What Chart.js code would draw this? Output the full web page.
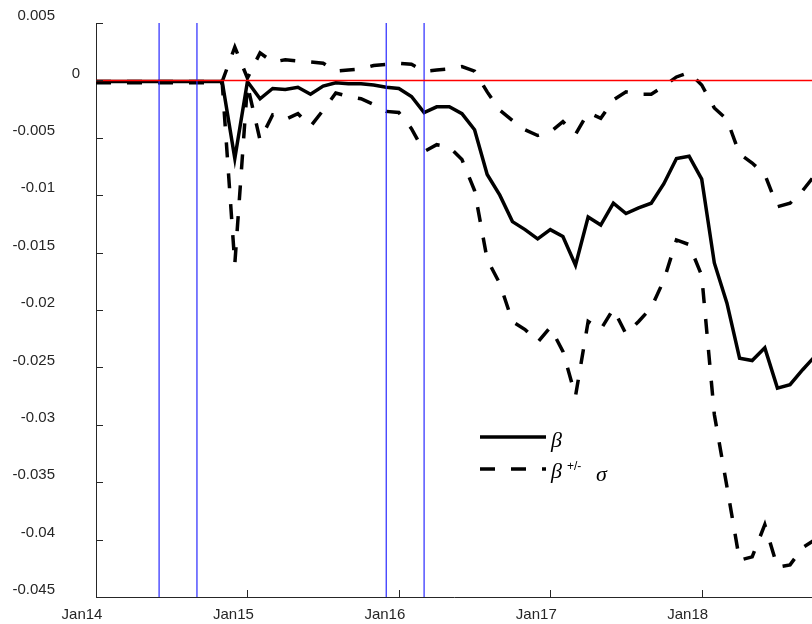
<!DOCTYPE html>
<html>
<head>
<meta charset="utf-8">
<script src="https://cdn.jsdelivr.net/npm/chart.js@4.4.1/dist/chart.umd.min.js"></script>
<style>
  html, body { margin: 0; padding: 0; background: #fff; overflow: hidden; }
  #wrap { width: 812px; height: 624px; }
</style>
</head>
<body>
<div id="wrap"><canvas id="chart" width="812" height="624"></canvas></div>
<script>
// months since Jan 2014, one point per month
const months = [0, 1, 2, 3, 4, 5, 6, 7, 8, 9, 10, 11, 12, 13, 14, 15, 16, 17, 18, 19,
    20, 21, 22, 23, 24, 25, 26, 27, 28, 29, 30, 31, 32, 33, 34, 35, 36, 37, 38, 39,
    40, 41, 42, 43, 44, 45, 46, 47, 48, 49, 50, 51, 52, 53, 54, 55, 56, 57];

const beta = [-0.0001, -0.0001, -0.0001, -0.0001, -0.0001, -0.0001, -0.0001, -0.0001, -0.0001, -0.0001,
    -0.0001, -0.0068, -0.0001, -0.0016, -0.0007, -0.0008, -0.0006, -0.0012, -0.0005, -0.0002,
    -0.0003, -0.0003, -0.0004, -0.0006, -0.0007, -0.0014, -0.0028, -0.0023, -0.0023, -0.0029,
    -0.0043, -0.0082, -0.0100, -0.0123, -0.0130, -0.0138, -0.0130, -0.0136, -0.0161, -0.0119,
    -0.0126, -0.0107, -0.0116, -0.0111, -0.0107, -0.0090, -0.0068, -0.0066, -0.0086, -0.0159,
    -0.0194, -0.0242, -0.0244, -0.0233, -0.0268, -0.0265, -0.0252, -0.0240];

const betaUpper = [-0.0001, -0.0001, -0.0001, -0.0001, -0.0001, -0.0001, -0.0001, -0.0001, -0.0001, -0.0001,
    -0.0001, 0.0029, 0.0002, 0.0024, 0.0016, 0.0018, 0.0017, 0.0016, 0.0015, 0.0008,
    0.0009, 0.0010, 0.0013, 0.0014, 0.0015, 0.0014, 0.0008, 0.0009, 0.0010, 0.0012,
    0.0008, -0.0010, -0.0026, -0.0035, -0.0043, -0.0048, -0.0045, -0.0036, -0.0047, -0.0028,
    -0.0033, -0.0017, -0.0010, -0.0012, -0.0012, -0.0005, 0.0003, 0.0007, -0.0004, -0.0024,
    -0.0034, -0.0064, -0.0072, -0.0082, -0.0110, -0.0107, -0.0096, -0.0082];

const betaLower = [-0.0002, -0.0002, -0.0002, -0.0002, -0.0002, -0.0002, -0.0002, -0.0002, -0.0002, -0.0002,
    -0.0002, -0.0160, -0.0004, -0.0052, -0.0030, -0.0034, -0.0029, -0.0040, -0.0026, -0.0011,
    -0.0014, -0.0016, -0.0021, -0.0027, -0.0028, -0.0042, -0.0062, -0.0056, -0.0058, -0.0069,
    -0.0096, -0.0156, -0.0177, -0.0210, -0.0217, -0.0228, -0.0215, -0.0236, -0.0275, -0.0210,
    -0.0217, -0.0199, -0.0221, -0.0210, -0.0198, -0.0174, -0.0139, -0.0143, -0.0170, -0.0291,
    -0.0354, -0.0418, -0.0415, -0.0387, -0.0424, -0.0422, -0.0407, -0.0400];

// vertical markers (months since Jan 2014)
const eventMonths = [5, 8, 23, 26];

const tickMonths = [0, 12, 24, 36, 48];
const tickLabels = ['Jan14', 'Jan15', 'Jan16', 'Jan17', 'Jan18'];

const yMin = -0.045;
const yMax = 0.005;
const xMax = 56.74;

const textColor = '#262626';

const toPoints = (vals) => vals.map((v, i) => ({x: months[i], y: v}));

const datasets = [];

// zero line on top
datasets.push({
    data: [{x: months[0], y: 0}, {x: months[months.length - 1], y: 0}],
    borderColor: 'rgb(255,0,0)',
    borderWidth: 1.5
});

eventMonths.forEach(m => {
    datasets.push({
        data: [{x: m, y: yMin}, {x: m, y: yMax}],
        borderColor: 'rgb(40,40,255)',
        borderWidth: 1.2
    });
});

datasets.push({
    data: toPoints(beta),
    borderColor: '#000',
    borderWidth: 3.5
});

datasets.push({
    data: toPoints(betaUpper),
    borderColor: '#000',
    borderWidth: 3.5,
    borderDash: [15, 16]
});

datasets.push({
    data: toPoints(betaLower),
    borderColor: '#000',
    borderWidth: 3.5,
    borderDash: [15, 16]
});

const matlabBits = {
    id: 'matlabBits',
    afterDraw(chart) {
        const ctx = chart.ctx;
        const area = chart.chartArea;
        const xs = chart.scales.x;
        const ys = chart.scales.y;

        // inward tick marks
        ctx.save();
        ctx.strokeStyle = textColor;
        ctx.lineWidth = 1;
        ctx.beginPath();
        ys.ticks.forEach(t => {
            let py = Math.round(ys.getPixelForValue(t.value)) + 0.5;
            ctx.moveTo(area.left, py);
            ctx.lineTo(area.left + 7, py);
        });
        xs.ticks.forEach(t => {
            let px = Math.round(xs.getPixelForValue(t.value)) + 0.5;
            ctx.moveTo(px, area.bottom);
            ctx.lineTo(px, area.bottom - 7);
        });
        ctx.stroke();
        ctx.restore();

        // legend
        ctx.save();
        ctx.strokeStyle = '#000';
        ctx.lineWidth = 3.5;
        ctx.lineCap = 'butt';
        ctx.beginPath();
        ctx.moveTo(480, 437);
        ctx.lineTo(546, 437);
        ctx.stroke();

        ctx.setLineDash([15, 16]);
        ctx.beginPath();
        ctx.moveTo(480, 469);
        ctx.lineTo(546, 469);
        ctx.stroke();
        ctx.setLineDash([]);

        ctx.fillStyle = '#000';
        ctx.textAlign = 'left';
        ctx.textBaseline = 'alphabetic';
        ctx.font = 'italic 22px "Liberation Serif"';
        ctx.fillText('β', 551, 447);
        ctx.fillText('β', 551, 478);
        ctx.font = '12px "Liberation Sans"';
        ctx.fillText('+/-', 567, 470);
        ctx.font = 'italic 22px "Liberation Serif"';
        ctx.fillText('σ', 596, 481);
        ctx.restore();
    }
};

new Chart(document.getElementById('chart'), {
    type: 'line',
    data: {datasets: datasets},
    options: {
        responsive: false,
        animation: false,
        events: [],
        layout: {padding: {left: 0, right: 0, top: 23, bottom: 0}},
        elements: {
            point: {radius: 0},
            line: {tension: 0, fill: false, borderCapStyle: 'butt'}
        },
        plugins: {
            legend: {display: false},
            tooltip: {enabled: false}
        },
        scales: {
            x: {
                type: 'linear',
                min: 0,
                max: xMax,
                grid: {display: false, drawTicks: false},
                border: {display: true, color: textColor, width: 1},
                ticks: {
                    stepSize: 12,
                    includeBounds: false,
                    maxRotation: 0,
                    autoSkip: false,
                    padding: 9,
                    labelOffset: -14,
                    color: textColor,
                    font: {family: '"Liberation Sans"', size: 15},
                    callback: function(v){
                        let idx = tickMonths.indexOf(v);
                        return idx >= 0 ? tickLabels[idx] : '';
                    }
                },
                afterFit: function(s){
                    s.height = 27;
                    s.paddingLeft = 0;
                    s.paddingRight = 0;
                }
            },
            y: {
                min: yMin,
                max: yMax,
                grid: {display: false, drawTicks: false},
                border: {display: true, color: textColor, width: 1},
                ticks: {
                    stepSize: 0.005,
                    padding: 16,
                    labelOffset: -7,
                    color: textColor,
                    font: {family: '"Liberation Sans"', size: 15},
                    callback: function(v){
                        if (Math.abs(v) < 1e-9) {
                            return '0';
                        }
                        return String(parseFloat(v.toFixed(3))) + '      ';
                    }
                },
                afterFit: function(s){
                    s.width = 96;
                    s.paddingTop = 0;
                    s.paddingBottom = 0;
                }
            }
        }
    },
    plugins: [matlabBits]
});
</script>
</body>
</html>
